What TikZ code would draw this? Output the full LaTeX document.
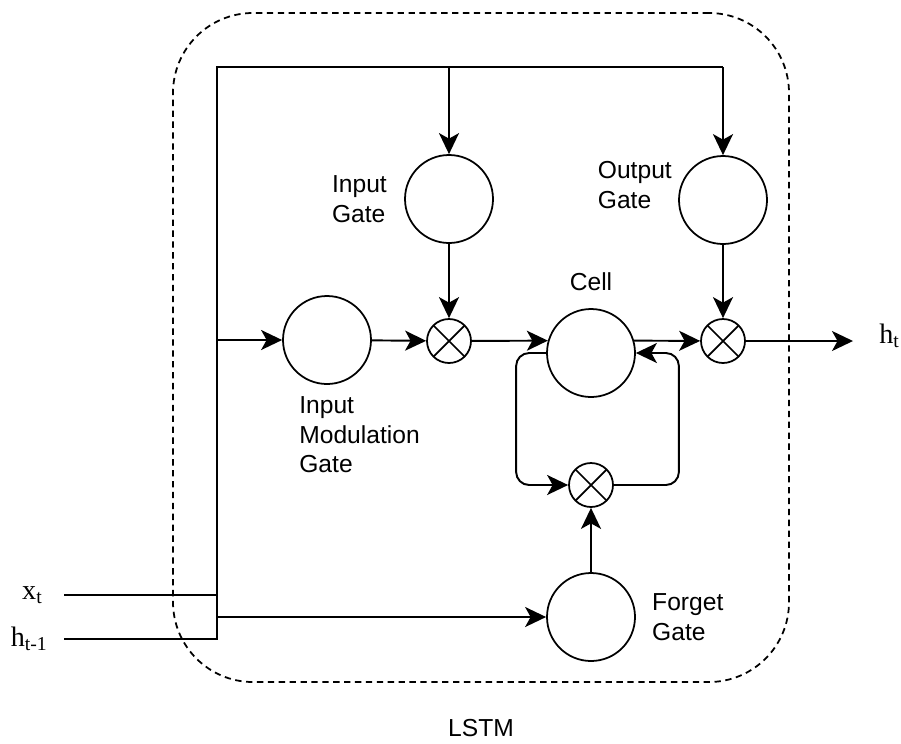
\documentclass[tikz,border=0pt]{standalone}
\usepackage{fontspec}
\setmainfont{Liberation Sans}
\newfontfamily\tnr{Liberation Serif}
\usetikzlibrary{arrows.meta,positioning}

\tikzset{
  gate/.style={draw, circle, line width=1pt, minimum size=1.76cm, inner sep=0pt},
  mult/.style={draw, circle, line width=1pt, minimum size=0.88cm, inner sep=0pt,
    path picture={\draw[line width=1pt]
      (path picture bounding box.south west) -- (path picture bounding box.north east)
      (path picture bounding box.north west) -- (path picture bounding box.south east);}},
  lbl/.style={font=\fontsize{14}{17}\selectfont, align=left, inner sep=0pt},
  var/.style={lbl, font=\tnr\fontsize{16}{18}\selectfont},
  wire/.style={line width=1.1pt},
  flow/.style={wire, -{Stealth[length=0.42cm, width=0.4cm, inset=0.11cm]}},
  frame/.style={draw, line width=1pt, dash pattern=on 3.6pt off 2.6pt,
    rounded corners=1.6cm, minimum width=12.32cm, minimum height=13.38cm},
}

\begin{document}
\begin{tikzpicture}
  \useasboundingbox (0,0) rectangle (18.02,-14.86);

  \node[frame] (lstm) at (9.62,-6.95) {};
  \node[lbl, below=0.72cm of lstm] {LSTM};

  \node[gate] (ingate) at (8.98,-3.98) {};
  \node[gate] (outgate) at (14.46,-4.0) {};
  \node[gate] (modgate) at (6.54,-6.8) {};
  \node[mult] (inmult) at (8.98,-6.82) {};
  \node[gate] (cell) at (11.82,-7.06) {};
  \node[mult] (outmult) at (14.46,-6.82) {};
  \node[mult] (fmult) at (11.82,-9.7) {};
  \node[gate] (fgate) at (11.82,-12.34) {};

  \node[lbl, left=0.34cm of ingate] {Input\\Gate};
  \node[lbl, left=0.12cm of outgate, yshift=0.3cm] {Output\\Gate};
  \node[lbl, above=0.34cm of cell] {Cell};
  \node[lbl, anchor=north west] at ([xshift=-0.56cm, yshift=-0.22cm]modgate.south)
    {Input\\Modulation\\Gate};
  \node[lbl, right=0.32cm of fgate] {Forget\\Gate};

  \coordinate (busTop) at (4.34,-1.34);
  \coordinate (busBot) at (4.34,-12.78);
  \coordinate (xin) at (1.28,-11.9);
  \coordinate (hin) at (1.28,-12.78);
  \coordinate (hout) at (17.06,-6.82);

  \node[var, left=0.42cm of xin] {x\textsubscript{t}};
  \node[var, left=0.32cm of hin] {h\textsubscript{t-1}};
  \node[var, right=0.52cm of hout, yshift=0.1cm] {h\textsubscript{t}};

  \draw[wire] (hin) -- (busBot) -- (busTop) -- (busTop -| outgate);
  \draw[wire] (xin) -- (xin -| busTop);
  \draw[flow] (busTop -| ingate) -- (ingate);
  \draw[flow] (busTop -| outgate) -- (outgate);
  \draw[flow] (modgate -| busTop) -- (modgate);
  \draw[flow] (fgate -| busTop) -- (fgate);

  \draw[flow] (ingate) -- (inmult);
  \draw[flow] (modgate) -- (inmult);
  \draw[flow] (inmult) -- (cell.164);
  \draw[flow] (cell.16) -- (outmult);
  \draw[flow] (outgate) -- (outmult);
  \draw[flow] (outmult) -- (hout);
  \draw[flow] (fgate) -- (fmult);

  \draw[flow, rounded corners=0.26cm] (cell.west) -- ++(-0.6,0) |- (fmult);
  \draw[flow, rounded corners=0.26cm] (fmult.east) -| ([xshift=0.86cm]cell.east) -- (cell.east);
\end{tikzpicture}
\end{document}
